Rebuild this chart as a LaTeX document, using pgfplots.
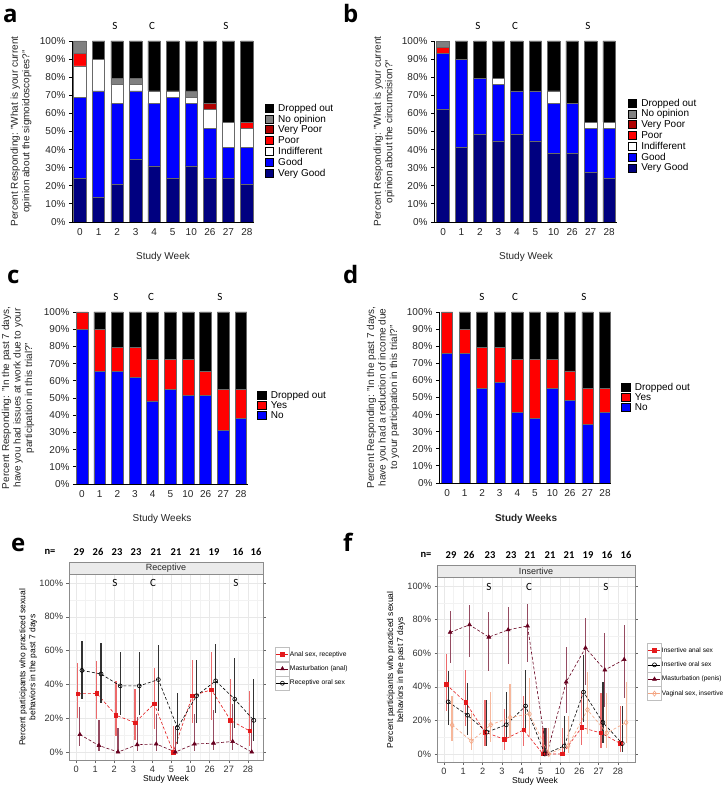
\documentclass[border=0pt]{standalone}
\usepackage{pgfplots}
\usepackage{pgfplotstable}
\pgfplotsset{compat=1.18}
\usepackage{fontspec}
\setmainfont{Liberation Sans}
\newfontfamily\calib{Carlito}
\newfontfamily\lettf{Open Sans}

\definecolor{cVG}{RGB}{0,0,128}
\definecolor{cG}{RGB}{0,0,255}
\definecolor{cPoor}{RGB}{255,0,0}
\definecolor{cVP}{RGB}{175,0,0}
\definecolor{cNo}{RGB}{128,128,128}
\definecolor{cEdge}{RGB}{105,105,105}
\definecolor{eRed}{RGB}{228,26,28}
\definecolor{eMar}{RGB}{103,0,31}
\definecolor{eSal}{RGB}{244,165,130}

% ---------- panel a: sigmoidoscopies (percent of 29) ----------
\pgfplotstableread{
x vg g ind poor vpoor noop drop
0 24.138 44.828 17.241 6.897 0 6.897 0
1 13.793 58.621 17.241 0 0 0 10.345
2 20.690 44.828 10.345 0 0 3.448 20.690
3 34.483 37.931 3.448 0 0 3.448 20.690
4 31.034 34.483 6.897 0 0 0 27.586
5 24.138 44.828 3.448 0 0 0 27.586
6 31.034 34.483 3.448 0 0 3.448 27.586
7 24.138 27.586 10.345 0 3.448 0 34.483
8 24.138 17.241 13.793 0 0 0 44.828
9 20.690 20.690 10.345 3.448 0 0 44.828
}\dataA
% ---------- panel b: circumcision ----------
\pgfplotstableread{
x vg g ind poor vpoor noop drop
0 62.069 31.034 0 3.448 0 3.448 0
1 41.379 48.276 0 0 0 0 10.345
2 48.276 31.034 0 0 0 0 20.690
3 44.828 31.034 3.448 0 0 0 20.690
4 48.276 24.138 0 0 0 0 27.586
5 44.828 27.586 0 0 0 0 27.586
6 37.931 27.586 6.897 0 0 0 27.586
7 37.931 27.586 0 0 0 0 34.483
8 27.586 24.138 3.448 0 0 0 44.828
9 24.138 27.586 3.448 0 0 0 44.828
}\dataB
% ---------- panel c: issues at work ----------
\pgfplotstableread{
x no yes drop
0 89.655 10.345 0
1 65.517 24.138 10.345
2 65.517 13.793 20.690
3 62.069 17.241 20.690
4 48.276 24.138 27.586
5 55.172 17.241 27.586
6 51.724 20.690 27.586
7 51.724 13.793 34.483
8 31.034 24.138 44.828
9 37.931 17.241 44.828
}\dataC
% ---------- panel d: reduction of income ----------
\pgfplotstableread{
x no yes drop
0 75.862 24.138 0
1 75.862 13.793 10.345
2 55.172 24.138 20.690
3 58.621 20.690 20.690
4 41.379 31.034 27.586
5 37.931 34.483 27.586
6 55.172 17.241 27.586
7 48.276 17.241 34.483
8 34.483 20.690 44.828
9 41.379 13.793 44.828
}\dataD
% ---------- panel e: receptive ----------
\pgfplotstableread{
x y lo hi
0.09 34.48 19.94 52.66
1.09 34.62 19.41 53.78
2.09 21.74 9.66 41.90
3.09 17.39 6.98 37.14
4.09 28.57 13.81 49.96
5.09 0 0 15.46
6.09 33.33 17.19 54.63
7.09 36.84 19.15 58.96
8.09 18.75 6.59 43.01
9.09 12.50 3.50 36.02
}\eRedT
\pgfplotstableread{
x y lo hi
0.20 10.34 3.58 26.39
1.20 3.85 0.68 18.89
2.20 0 0 14.31
3.20 4.35 0.77 20.99
4.20 4.76 0.85 22.67
5.20 0 0 15.46
6.20 4.76 0.85 22.67
7.20 5.26 0.94 24.64
8.20 6.25 1.11 28.33
9.20 0 0 19.36
}\eMarT
\pgfplotstableread{
x y lo hi
0.31 48.28 31.39 65.57
1.31 46.15 28.76 64.54
2.31 39.13 22.16 59.21
3.31 39.13 22.16 59.21
4.31 42.86 24.47 63.45
5.31 14.29 4.98 34.64
6.31 33.33 17.19 54.63
7.31 42.11 23.14 63.72
8.31 31.25 14.16 55.60
9.31 18.75 6.59 43.01
}\eBlkT
% ---------- panel f: insertive ----------
\pgfplotstableread{
x y lo hi
0.12 41.38 25.51 59.26
1.12 30.77 16.50 49.99
2.12 13.04 4.54 32.13
3.12 8.70 2.42 26.80
4.12 14.29 4.98 34.64
5.12 0 0 15.46
6.12 0 0 15.46
7.12 15.79 5.52 37.57
8.12 12.50 3.50 36.02
9.12 6.25 1.11 28.33
}\fRedT
\pgfplotstableread{
x y lo hi
0.22 31.03 17.27 49.23
1.22 23.08 11.03 42.05
2.22 13.04 4.54 32.13
3.22 17.39 6.98 37.14
4.22 28.57 13.81 49.96
5.22 0 0 15.46
6.22 4.76 0.85 22.67
7.22 36.84 19.15 58.96
8.22 18.75 6.59 43.01
9.22 6.25 1.11 28.33
}\fBlkT
\pgfplotstableread{
x y lo hi
0.32 72.41 54.28 85.30
1.32 76.92 57.95 88.97
2.32 69.57 49.13 84.40
3.32 73.91 53.53 87.45
4.32 76.19 54.91 89.37
5.32 0 0 15.46
6.32 42.86 24.47 63.45
7.32 63.16 41.04 80.85
8.32 50.00 28.00 72.00
9.32 56.25 33.18 76.90
}\fMarT
\pgfplotstableread{
x y lo hi
0.42 17.24 7.60 34.55
1.42 7.69 2.14 24.14
2.42 17.39 6.98 37.14
3.42 21.74 9.66 41.90
4.42 23.81 10.63 45.09
5.42 0 0 15.46
6.42 4.76 0.85 22.67
7.42 26.32 11.81 48.79
8.42 12.50 3.50 36.02
9.42 18.75 6.59 43.01
}\fSalT

\pgfplotsset{
  barax/.style={
    scale only axis, anchor=south west,
    ybar stacked, bar width=12.5pt,
    ymin=0, ymax=100, enlargelimits=false,
    axis x line*=bottom, axis y line*=left,
    axis line style={black, line width=0.9pt},
    ytick={0,10,...,100},
    yticklabels={0\%,10\%,20\%,30\%,40\%,50\%,60\%,70\%,80\%,90\%,100\%},
    xtick={0,...,9}, xticklabels={0,1,2,3,4,5,10,26,27,28},
    tick label style={font=\fontsize{10}{11}\selectfont, text=black!85},
    major x tick style={draw=none},
    major y tick style={black, line width=0.9pt},
    major tick length=3pt, tick align=outside,
    reverse legend, legend cell align=left,
    legend style={draw=none, fill=none, anchor=north west, inner sep=0pt,
      font=\fontsize{10}{11}\selectfont, row sep=0pt, column sep=4pt,
      nodes={inner sep=0.5pt, text height=8pt, text depth=1.8pt}},
    legend image code/.code={\draw[#1, draw=black, line width=0.6pt] (0pt,-4pt) rectangle (8pt,4pt);},
    label style={font=\fontsize{10}{11.5}\selectfont, text=black!85},
    ylabel style={align=center, anchor=center},
    xlabel style={anchor=center},
  },
  smallleg/.style={
    legend style={nodes={inner sep=0.5pt, text height=7.5pt, text depth=1.5pt}},
    legend image code/.code={\draw[#1, draw=black, line width=0.6pt] (0pt,-4.3pt) rectangle (8.6pt,4.3pt);},
  },
  bar/.style={fill=#1, draw=cEdge, line width=0.6pt},
  ggax/.style={
    scale only axis, anchor=south west, ymin=-5, ymax=105, enlargelimits=false,
    xtick={0,...,9}, xticklabels={0,1,2,3,4,5,10,26,27,28},
    ytick={0,20,...,100}, yticklabels={0\%,20\%,40\%,60\%,80\%,100\%},
    minor xtick={0.5,1.5,...,9.5}, minor ytick={10,30,...,90},
    grid=both, major grid style={black!9, line width=0.5pt}, minor grid style={black!5, line width=0.4pt},
    axis line style={black!45, line width=0.6pt},
    tick align=outside, major tick length=2.5pt, minor tick length=0pt,
    major tick style={black!60, line width=0.5pt},
    tick label style={font=\fontsize{9.2}{10}\selectfont, text=black!80},
    label style={font=\fontsize{8.5}{10}\selectfont},
    ylabel style={align=center, anchor=center},
    xlabel style={anchor=center},
    legend cell align=left,
    legend style={draw=none, fill=none, anchor=north west, inner sep=0pt, row sep=0pt,
      font=\fontsize{6.7}{8}\selectfont, nodes={inner sep=0.3pt}},
    legend image code/.code={\draw[black!25, fill=white, line width=0.4pt, solid] (-1pt,-7pt) rectangle (13pt,7pt);
      \draw[mark repeat=2, mark phase=2, #1, solid] plot coordinates {(0pt,0pt) (6pt,0pt) (12pt,0pt)};},
    error bars/y dir=both, error bars/y explicit, error bars/error mark=none,
  },
  eb/.style={error bars/error bar style={#1, line width=1.2pt, solid}},
  dl/.style={#1, line width=0.6pt, dash pattern=on 3pt off 2pt, mark options={solid}},
}

\begin{document}
\begin{tikzpicture}[x=1pt,y=1pt]
\useasboundingbox (0,0) rectangle (726,787);
\fill[white] (0,0) rectangle (726,787);

% ================= a =================
\begin{axis}[barax, at={(72pt,565pt)}, width=182pt, height=181pt, xmin=-0.43, xmax=9.38,
  legend style={at={(axis description cs:1.06,0.66)}},
  ylabel={Percent Responding: "What is your current\\opinion about the sigmoidoscopies?"},
  ylabel style={at={(axis description cs:-0.28,0.5)}},
  xlabel={Study Week}, xlabel style={at={(axis description cs:0.5,-0.193)}}]
\addplot[bar=cVG] table[x=x,y=vg]{\dataA};
\addplot[bar=cG] table[x=x,y=g]{\dataA};
\addplot[bar=white] table[x=x,y=ind]{\dataA};
\addplot[bar=cPoor] table[x=x,y=poor]{\dataA};
\addplot[bar=cVP] table[x=x,y=vpoor]{\dataA};
\addplot[bar=cNo] table[x=x,y=noop]{\dataA};
\addplot[bar=black] table[x=x,y=drop]{\dataA};
\legend{Very Good,Good,Indifferent,Poor,Very Poor,No opinion,Dropped out}
\end{axis}

% ================= b =================
\begin{axis}[barax, at={(434pt,565pt)}, width=183pt, height=181pt, xmin=-0.49, xmax=9.43,
  legend style={at={(axis description cs:1.06,0.688)}},
  ylabel={Percent Responding: "What is your current\\opinion about the circumcision?"},
  ylabel style={at={(axis description cs:-0.273,0.5)}},
  xlabel={Study Week}, xlabel style={at={(axis description cs:0.503,-0.193)}}]
\addplot[bar=cVG] table[x=x,y=vg]{\dataB};
\addplot[bar=cG] table[x=x,y=g]{\dataB};
\addplot[bar=white] table[x=x,y=ind]{\dataB};
\addplot[bar=cPoor] table[x=x,y=poor]{\dataB};
\addplot[bar=cVP] table[x=x,y=vpoor]{\dataB};
\addplot[bar=cNo] table[x=x,y=noop]{\dataB};
\addplot[bar=black] table[x=x,y=drop]{\dataB};
\legend{Very Good,Good,Indifferent,Poor,Very Poor,No opinion,Dropped out}
\end{axis}

% ================= c =================
\begin{axis}[barax, smallleg, at={(76pt,303pt)}, width=172pt, height=172pt, xmin=-0.34, xmax=9.4,
  bar width=11.7pt,
  legend style={at={(axis description cs:1.052,0.547)}},
  ylabel={Percent Responding: "In the past 7 days,\\have you had issues at work due to your\\participation in this trial?"},
  ylabel style={at={(axis description cs:-0.337,0.5)}},
  xlabel={Study Weeks}, xlabel style={at={(axis description cs:0.5,-0.203)}}]
\addplot[bar=cG] table[x=x,y=no]{\dataC};
\addplot[bar=cPoor] table[x=x,y=yes]{\dataC};
\addplot[bar=black] table[x=x,y=drop]{\dataC};
\legend{No,Yes,Dropped out}
\end{axis}

% ================= d =================
\begin{axis}[barax, smallleg, at={(439pt,304pt)}, width=172pt, height=171pt, xmin=-0.46, xmax=9.34,
  bar width=11.2pt,
  legend style={at={(axis description cs:1.058,0.591)}},
  ylabel={Percent Responding: "In the past 7 days,\\have you had a reduction of income due\\to your participation in this trial?"},
  ylabel style={at={(axis description cs:-0.326,0.5)}},
  xlabel={\bfseries Study Weeks}, xlabel style={at={(axis description cs:0.506,-0.211)}}]
\addplot[bar=cG] table[x=x,y=no]{\dataD};
\addplot[bar=cPoor] table[x=x,y=yes]{\dataD};
\addplot[bar=black] table[x=x,y=drop]{\dataD};
\legend{No,Yes,Dropped out}
\end{axis}

% ================= e =================
\begin{axis}[ggax, at={(69pt,26.5pt)}, width=194pt, height=186pt, xmin=-0.37, xmax=9.79,
  legend style={at={(axis description cs:1.062,0.61)}},
  ylabel={Percent participants who practiced sexual\\behaviors in the past 7 days},
  ylabel style={at={(axis description cs:-0.211,0.5)}},
  xlabel={Study Week}, xlabel style={at={(axis description cs:0.5,-0.1)}},
  after end axis/.code={
    \draw[black!45, fill=black!8, line width=0.5pt] (axis description cs:0,1) rectangle (axis description cs:1,1.067);
    \node[font=\fontsize{9}{10}\selectfont, text=black!85] at (axis description cs:0.5,1.0335) {Receptive};}]
\addplot[dl=eRed, mark=square*, mark size=1.8pt, eb={eRed!65}]
  table[x=x,y=y,y error plus expr=\thisrow{hi}-\thisrow{y},y error minus expr=\thisrow{y}-\thisrow{lo}]{\eRedT};
\addplot[dl=eMar, mark=triangle*, mark size=2.2pt, eb={eMar!70!white}]
  table[x=x,y=y,y error plus expr=\thisrow{hi}-\thisrow{y},y error minus expr=\thisrow{y}-\thisrow{lo}]{\eMarT};
\addplot[dl=black, mark=o, mark size=2pt, eb={black!80}]
  table[x=x,y=y,y error plus expr=\thisrow{hi}-\thisrow{y},y error minus expr=\thisrow{y}-\thisrow{lo}]{\eBlkT};
\legend{{Anal sex, receptive},Masturbation (anal),Receptive oral sex}
\end{axis}

% ================= f =================
\begin{axis}[ggax, at={(437pt,24.6pt)}, width=198pt, height=184.8pt, xmin=-0.36, xmax=9.88,
  legend style={at={(axis description cs:1.061,0.646)}, font=\fontsize{6.55}{8}\selectfont},
  ylabel={Percent participants who practiced sexual\\behaviors in the past 7 days},
  ylabel style={at={(axis description cs:-0.207,0.5)}},
  xlabel={Study Week}, xlabel style={at={(axis description cs:0.495,-0.104)}},
  after end axis/.code={
    \draw[black!45, fill=black!8, line width=0.5pt] (axis description cs:0,1) rectangle (axis description cs:1,1.068);
    \node[font=\fontsize{9}{10}\selectfont, text=black!85] at (axis description cs:0.5,1.034) {Insertive};}]
\addplot[dl=eRed, mark=square*, mark size=1.8pt, eb={eRed!65}]
  table[x=x,y=y,y error plus expr=\thisrow{hi}-\thisrow{y},y error minus expr=\thisrow{y}-\thisrow{lo}]{\fRedT};
\addplot[dl=black, mark=o, mark size=2pt, eb={black!80}]
  table[x=x,y=y,y error plus expr=\thisrow{hi}-\thisrow{y},y error minus expr=\thisrow{y}-\thisrow{lo}]{\fBlkT};
\addplot[dl=eMar, mark=triangle*, mark size=2.2pt, eb={eMar!70!white}]
  table[x=x,y=y,y error plus expr=\thisrow{hi}-\thisrow{y},y error minus expr=\thisrow{y}-\thisrow{lo}]{\fMarT};
\addplot[dl=eSal, mark=diamond, mark size=2.6pt, eb={eSal!80}]
  table[x=x,y=y,y error plus expr=\thisrow{hi}-\thisrow{y},y error minus expr=\thisrow{y}-\thisrow{lo}]{\fSalT};
\legend{Insertive anal sex,Insertive oral sex,Masturbation (penis),{Vaginal sex, insertive}}
\end{axis}

% ================= annotations =================
\begin{scope}[every node/.style={font=\calib\fontsize{11}{12}\selectfont}]
\node at (115,761) {S}; \node at (152,761) {C}; \node at (226,761) {S};
\node at (478,761) {S}; \node at (515,761) {C}; \node at (588,761) {S};
\node at (116,490) {S}; \node at (151,490) {C}; \node at (220,490) {S};
\node at (482,490) {S}; \node at (515,490) {C}; \node at (584,490) {S};
\node at (115,204) {S}; \node at (153,204) {C}; \node at (236,204) {S};
\node at (489,200) {S}; \node at (529,200) {C}; \node at (606,200) {S};
\end{scope}
\begin{scope}[every node/.style={font=\calib\bfseries\fontsize{10.5}{12}\selectfont}]
\node at (50,235) {n=};
\foreach \xx/\nn in {79/29,98/26,117/23,136/23,156/21,176/21,195/21,214/19,238/16,256/16}
  \node at (\xx,235) {\nn};
\node at (426,232) {n=};
\foreach \xx/\nn in {451/29,469/26,490/23,511/23,530/21,550/21,569/21,588/19,607/16,626/16}
  \node at (\xx,232) {\nn};
\end{scope}
\begin{scope}[every node/.style={font=\lettf\bfseries\fontsize{24}{24}\selectfont, anchor=base west, inner sep=0pt}]
\node at (3,764.5) {a};
\node at (343,764.5) {b};
\node at (7,503) {c};
\node at (343,503) {d};
\node at (11,235) {e};
\node at (343,235) {f};
\end{scope}
\end{tikzpicture}
\end{document}
